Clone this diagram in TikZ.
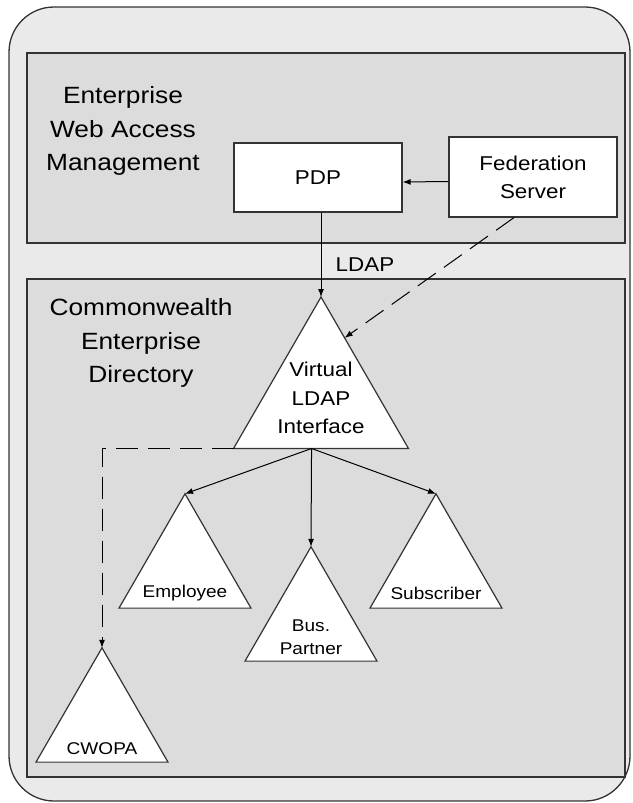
\documentclass[tikz,border=0pt]{standalone}
\usepackage{fontspec}
\setmainfont[FakeStretch=1.12]{Liberation Sans}
\usepackage{tikz}
\usetikzlibrary{arrows.meta,%
                shapes.geometric,%
                calc}
\definecolor{outergray}{HTML}{EAEAEA}
\definecolor{innergray}{HTML}{DCDCDC}
\definecolor{linegray}{HTML}{333333}

\begin{document}
\begin{tikzpicture}[x=1pt, y=-1pt,
  frame/.style={draw=linegray, line width=1.3pt},
  box/.style={draw=linegray, line width=1.2pt, fill=white, inner sep=0pt,
              align=center, font=\fontsize{20}{28}\selectfont},
  tree/.style={regular polygon, regular polygon sides=3, draw=linegray,
               line width=1.2pt, fill=white, inner sep=0pt, outer sep=0pt,
               minimum size=152.4pt},
  title/.style={align=center, font=\fontsize{23.5}{33.5}\selectfont},
  mid/.style={align=center, font=\fontsize{20}{28.5}\selectfont},
  small/.style={align=center, font=\fontsize{17}{23}\selectfont},
  link/.style={draw=black, line width=1pt, -{Latex[length=8pt,width=6pt]}},
  dlink/.style={link, dash pattern=on 22pt off 10pt}]

\useasboundingbox (0,0) rectangle (632,803);

\draw[frame, fill=outergray, rounded corners=45pt] (9,7) rectangle (630,801);
\draw[frame, fill=innergray] (27,53) rectangle (625,243);
\draw[frame, fill=innergray] (27,279) rectangle (625,777);

\node[title] (WAMtitle) at (123,131) {Enterprise\\Web Access\\Management};
\node[box, minimum width=168pt, minimum height=69pt] (PDP) at (318,177.5) {PDP};
\node[box, minimum width=168pt, minimum height=80pt] (FedServer) at (533,177) {Federation\\Server};
\draw[link] ([yshift=-4.5pt]FedServer.west) -- ([yshift=-4.5pt]PDP.east);

\node[title] (CEDtitle) at (141,343) {Commonwealth\\Enterprise\\Directory};

\node[tree, minimum size=202pt] (VLDAP) at (321,398) {};
\node[mid] (VLDAPtxt) at (321,398) {Virtual\\LDAP\\Interface};
\coordinate (VLDAPfork) at ($(VLDAP.corner 2)!0.446!(VLDAP.corner 3)$);

\draw[link] (VLDAP.corner 1 |- PDP.south) -- (VLDAP.corner 1);
\node[mid] (LDAPlbl) at (365,265) {LDAP};
\draw[dlink] ([xshift=-19pt]FedServer.south) -- ($(VLDAP.corner 1)!0.27!(VLDAP.corner 3)$);

\node[tree] (Employee) at (185,570) {};
\node[small] (EmployeeTxt) at (185,593) {Employee};
\node[tree] (BusPartner) at (311,623) {};
\node[small] (BusPartnerTxt) at (311,637) {Bus.\\Partner};
\node[tree] (Subscriber) at (436,570) {};
\node[small] (SubscriberTxt) at (436,593) {Subscriber};
\node[tree] (CWOPA) at (102,724) {};
\node[small] (CWOPATxt) at (102,749) {CWOPA};

\draw[link] (VLDAPfork) -- (Employee.corner 1);
\draw[link] (VLDAPfork) -- (BusPartner.corner 1);
\draw[link] (VLDAPfork) -- (Subscriber.corner 1);
\draw[dlink] (VLDAP.corner 2) -| (CWOPA.corner 1);

\end{tikzpicture}
\end{document}
